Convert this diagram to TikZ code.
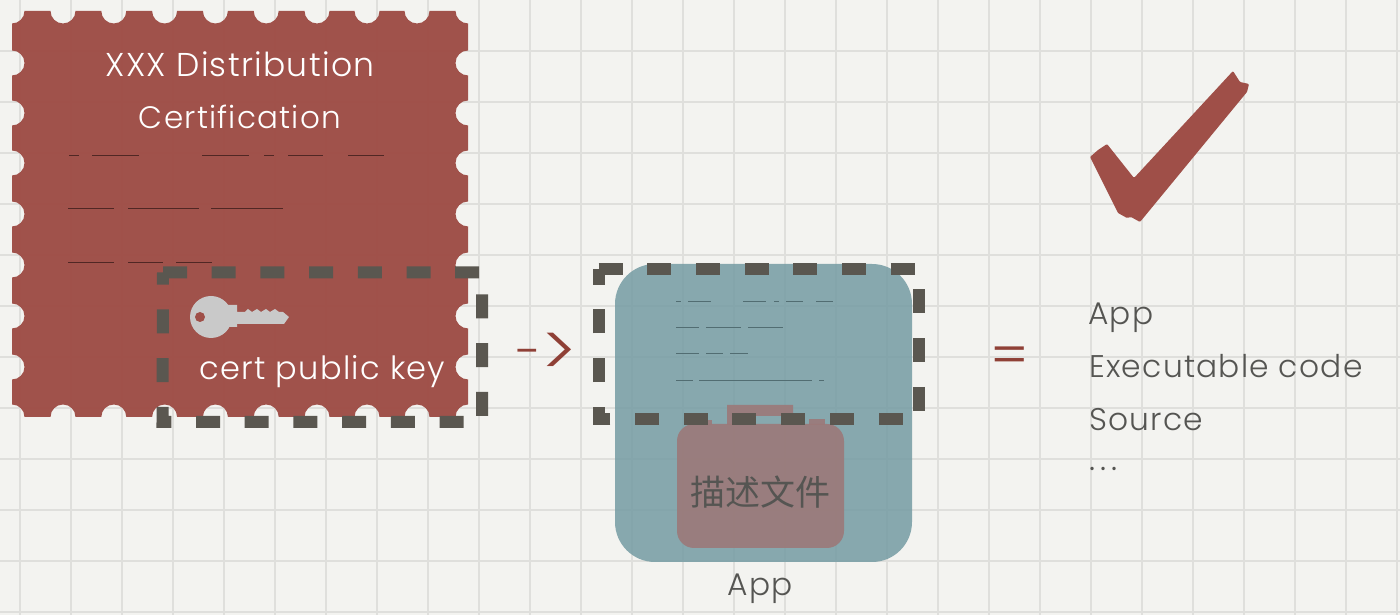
\documentclass[tikz,border=0pt]{standalone}
\usepackage{fontspec}
\setmainfont{Poppins}[UprightFont=* Light, LetterSpace=4]
\newfontfamily\signfont{Poppins}
\newfontfamily\cjkfont{Noto Sans CJK SC}
\usepackage{tikz}
\usetikzlibrary{calc}
\definecolor{paper-bg}{HTML}{F3F3F0}
\definecolor{paper-grid}{HTML}{DFDFDC}
\definecolor{cert-red}{HTML}{9F4F48}
\definecolor{app-teal}{HTML}{759CA3}
\definecolor{bag-brown}{HTML}{9C7979}
\definecolor{cut-grey}{HTML}{5A5750}
\definecolor{key-grey}{HTML}{C9C9C9}
\definecolor{note-text}{HTML}{555552}
\definecolor{sign-red}{HTML}{8F4036}
\tikzset{
    big-label/.style={inner sep=0pt, anchor=base, font=\fontsize{33}{33}\selectfont},
    side-label/.style={inner sep=0pt, anchor=base west, text=note-text, font=\fontsize{31.3}{33}\selectfont},
    cut-line/.style={cut-grey, line width=12pt, dash pattern=on 24pt off 24.7pt},
    scribble/.style={line width=1pt}
}

\begin{document}
\begin{tikzpicture}[x=1pt, y=1pt]
    \useasboundingbox (0, 0) rectangle (1400, 615);

    % Paper and its grid
    \fill[paper-bg] (0, 0) rectangle (1400, 615);
    \foreach \i in {0,...,27} {
        \draw[paper-grid, line width=1.5pt] ({20 + 51 * \i}, 0) -- ({20 + 51 * \i}, 615);
    }
    \foreach \i in {0,...,11} {
        \draw[paper-grid, line width=1.5pt] (0, {3 + 51 * \i}) -- (1400, {3 + 51 * \i});
    }

    % Certificate as a stamp
    \fill[cert-red, fill opacity=0.98] (24.5, 604)
        \foreach \x in {63, 113.8, 164.6, 215.4, 266.2, 317, 367, 417} { -- (\x - 12.5, 604) arc (180:360:12.5) }
        -- (455.5, 604) arc (180:270:12.5)
        \foreach \y in {552, 502, 452, 401, 350, 299, 248} { -- (468, \y + 12.5) arc (90:270:12.5) }
        -- (468, 210.5) arc (90:180:12.5)
        \foreach \x in {417, 367, 317, 266.2, 215.4, 164.6, 113.8, 63} { -- (\x + 12.5, 198) arc (0:180:12.5) }
        -- (24.5, 198) arc (0:90:12.5)
        \foreach \y in {248, 299, 350, 401, 452, 502, 552} { -- (12, \y - 12.5) arc (-90:90:12.5) }
        -- (12, 591.5) arc (-90:0:12.5) -- cycle;

    \node[big-label, text=white] (cert-title-a) at (240, 538) {XXX Distribution};
    \node[big-label, text=white, font=\fontsize{31}{33}\selectfont] (cert-title-b) at (240, 486) {Certification};
    \node[big-label, text=white, font=\fontsize{32}{33}\selectfont] (cert-key) at (322.5, 235) {cert public key};

    % Scribbled lines on the certificate
    \foreach \a/\b/\c in {69/79/459, 92/139/459, 202/249/459, 264/274/459, 288/323/459, 348/384/459,
                          68/114/406, 128/199/406, 211/283/406,
                          68/114/352, 128/163/352, 176/212/352} {
        \draw[scribble, color=black!50!cert-red] (\a, \c) -- (\b, \c);
    }

    % Key
    \fill[key-grey] (211, 298) circle (21);
    \fill[key-grey] (228, 310) -- (237, 310) -- (237, 303) -- (245, 303) -- (248, 306) -- (252, 303) -- (257, 306) -- (261, 303)
        -- (266, 306) -- (270, 303) -- (275, 306) -- (279, 303) -- (283, 303) -- (289, 298) -- (284, 291) -- (237, 291)
        -- (237, 288) -- (228, 288) -- cycle;
    \fill[cert-red] (200, 298) circle (5);

    % App icon and the bag
    \fill[app-teal, fill opacity=0.85, rounded corners=40pt] (615, 53) rectangle (912, 351);
    \fill[bag-brown, fill opacity=0.9] (727, 190) -- (727, 210) -- (793, 210) -- (793, 190) -- (782, 190) -- (782, 199)
        -- (738, 199) -- (738, 190) -- cycle;
    \fill[bag-brown, fill opacity=0.9] (697, 190) rectangle (712, 195);
    \fill[bag-brown, fill opacity=0.9] (809, 190) rectangle (825, 196);
    \fill[bag-brown, fill opacity=0.9, rounded corners=17pt] (677, 67) rectangle (844, 191);
    \node[inner sep=0pt, text=note-text, font=\fontsize{35}{35}\selectfont\cjkfont] (bag-label) at (760, 123) {描述文件};
    \node[big-label, text=note-text, font=\fontsize{31.3}{33}\selectfont] (app-label) at (760, 19) {App};

    % Scribbled lines on the app
    \foreach \a/\b/\c in {676/681/313, 688/711/313, 743/766/313, 774/779/313, 786/803/313, 816/833/313,
                          676/699/287, 706/741/287, 748/783/287,
                          676/699/261, 706/723/261, 730/748/261,
                          676/693/234, 699/812/234, 819/824/234} {
        \draw[scribble, color=black!30!app-teal] (\a, \c) -- (\b, \c);
    }

    % Dashed cut-outs
    \draw[cut-line] (163, 342.5) -- (482, 342.5) -- (482, 193) -- (162.5, 193) -- cycle;
    \draw[cut-line] (598.5, 346) -- (919, 346) -- (919, 196) -- (598.5, 196) -- cycle;

    % Signs between the parts
    \node[inner sep=0pt, text=sign-red, anchor=base] (sign-arrow) at (547, 238)
        {\fontsize{48}{48}\selectfont\raisebox{8pt}{-}\fontsize{72}{72}\selectfont >};
    \node[inner sep=0pt, text=sign-red, font=\fontsize{57}{57}\selectfont] (sign-equal) at (1010, 254) {=};

    % Check mark
    \fill[cert-red, rounded corners=1pt] (1233, 544) -- (1240, 533) -- (1249, 531) -- (1247, 523) -- (1140, 393) -- (1131, 398) -- (1127, 397)
        -- (1118, 402) -- (1090, 458) -- (1098, 465) -- (1107, 471) -- (1134, 437) -- cycle;

    % List of what is checked
    \node[side-label] (list-app) at (1088, 290) {App};
    \node[side-label] (list-code) at (1089, 237) {Executable code};
    \node[side-label] (list-source) at (1089, 184) {Source};
    \node[side-label, font=\fontsize{33}{33}\selectfont\addfontfeature{LetterSpace=16}] (list-more) at (1089, 144) {...};
\end{tikzpicture}
\end{document}
